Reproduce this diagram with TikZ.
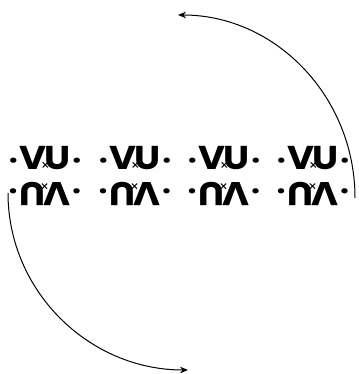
\documentclass[tikz,border=0pt]{standalone}
\usepackage{fontspec}
\setmainfont{Poppins}[BoldFeatures={FakeStretch=1.12}]
\usepackage{tikz}
\usetikzlibrary{arrows.meta}
% one group of letters, V and U with a small cross at the foot
\newcommand{\sdot}{{\fontsize{28}{28}\selectfont ·}}
\newcommand{\vxgroup}{\sdot\kern1.5pt V\kern-6pt\makebox[10pt]{\raisebox{-1pt}{\fontsize{14}{14}\selectfont\mdseries ×}}\kern-6pt U\kern1.5pt\sdot}
\tikzset{
  word/.style={inner sep=0pt, anchor=base,
    font=\fontsize{33}{33}\selectfont\bfseries},
  flipword/.style={word, rotate=180},
  turn/.style={-{Stealth[length=8pt,width=6.5pt]}, line width=1pt}
}
\begin{document}
\begin{tikzpicture}[x=1pt, y=1pt]
  \useasboundingbox (0,0) rectangle (358,374);
  % Upright row
  \node[word] (top1) at (45,204) {\vxgroup};
  \node[word] (top2) at (135,204) {\vxgroup};
  \node[word] (top3) at (224,204) {\vxgroup};
  \node[word] (top4) at (313,204) {\vxgroup};

  % Same row turned upside down
  \node[flipword] (bot1) at (45,191) {\vxgroup};
  \node[flipword] (bot2) at (135,191) {\vxgroup};
  \node[flipword] (bot3) at (224,191) {\vxgroup};
  \node[flipword] (bot4) at (313,191) {\vxgroup};

  % Turning arrows
  \coordinate (rstart) at (355,176);
  \coordinate (lstart) at (8,181);
  \draw[turn] (rstart) arc[start angle=0, end angle=90, x radius=177, y radius=183];
  \draw[turn] (lstart) arc[start angle=180, end angle=270, x radius=180, y radius=177];
\end{tikzpicture}
\end{document}
